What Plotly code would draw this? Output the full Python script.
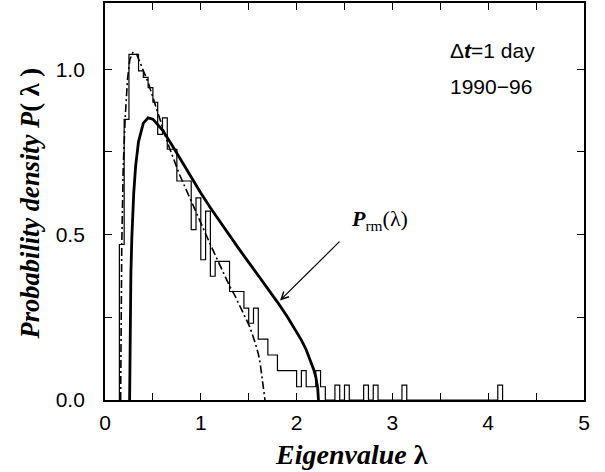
import plotly.graph_objects as go

# histogram of eigenvalues, bins of width 0.05 starting at 0.15
bin_start = 0.15
bin_width = 0.05
density = [0.47, 0.848, 1.045, 1.045, 0.995, 0.975, 0.944, 0.90, 0.803, 0.853,
           0.758, 0.758, 0.662, 0.662, 0.662, 0.515, 0.611, 0.424, 0.571, 0.374,
           0.419, 0.419, 0.419, 0.328, 0.328, 0.328, 0.278, 0.232, 0.278, 0.184,
           0.184, 0.136, 0.136, 0.089, 0.089, 0.089, 0.089, 0.04, 0.089, 0.04,
           0.04, 0.089, 0.04]
# isolated large eigenvalues (left edge of bin, density)
outlier_left = [2.40, 2.50, 2.70, 2.80, 3.10, 4.10]
outlier_density = [0.045, 0.045, 0.045, 0.045, 0.045, 0.045]

# random-matrix prediction P_rm(lambda)
rm_lam = [0.257, 0.26, 0.27, 0.28, 0.30, 0.32, 0.35, 0.40, 0.45, 0.50, 0.60, 0.70,
          0.80, 0.90, 1.00, 1.10, 1.20, 1.30, 1.40, 1.50, 1.60, 1.70, 1.80, 1.90,
          2.00, 2.05, 2.10, 2.15, 2.18, 2.20, 2.22, 2.228]
rm_p = [0.0, 0.18, 0.38, 0.49, 0.626, 0.708, 0.781, 0.837, 0.853, 0.849, 0.816, 0.770,
        0.721, 0.673, 0.626, 0.581, 0.538, 0.496, 0.456, 0.416, 0.376, 0.337, 0.296, 0.253,
        0.207, 0.181, 0.152, 0.117, 0.091, 0.070, 0.037, 0.0]

# fitted curve (dot-dashed)
fit_lam = [0.163, 0.168, 0.175, 0.19, 0.21, 0.235, 0.26, 0.29, 0.33, 0.38, 0.45, 0.55,
           0.65, 0.78, 0.90, 1.00, 1.10, 1.18, 1.30, 1.36, 1.42, 1.51, 1.56, 1.60,
           1.62, 1.645, 1.66, 1.67]
fit_p = [0.0, 0.25, 0.47, 0.70, 0.85, 0.97, 1.03, 1.05, 1.045, 1.01, 0.96, 0.87,
         0.78, 0.68, 0.60, 0.535, 0.47, 0.42, 0.345, 0.313, 0.275, 0.222, 0.18, 0.14,
         0.11, 0.06, 0.03, 0.0]

x_ticks = [0, 0.5, 1, 1.5, 2, 2.5, 3, 3.5, 4, 4.5, 5]
x_ticktext = ['0', '', '1', '', '2', '', '3', '', '4', '', '5']
y_ticks = [0, 0.25, 0.5, 0.75, 1.0]
y_ticktext = ['0.0', '', '0.5', '', '1.0']

# build the outline of the histogram as a step line
hx, hy = [bin_start], [0.0]
for i, d in enumerate(density):
    left = bin_start + i * bin_width
    hx += [left, left + bin_width]
    hy += [d, d]
hx.append(bin_start + len(density) * bin_width)
hy.append(0.0)
for left, d in zip(outlier_left, outlier_density):
    hx += [left, left, left + bin_width, left + bin_width]
    hy += [0.0, d, d, 0.0]

fig = go.Figure()
fig.add_trace(go.Scatter(x=hx, y=hy, mode='lines', line=dict(color='black', width=1.2)))
fig.add_trace(go.Scatter(x=fit_lam, y=fit_p, mode='lines',
                         line=dict(color='black', width=1.6, dash='8px,3px,2px,3px')))
fig.add_trace(go.Scatter(x=rm_lam, y=rm_p, mode='lines', line=dict(color='black', width=2.8)))

axis_font = dict(family='Liberation Sans, Arial', size=21, color='black')
serif = 'Liberation Serif, Times New Roman'
fig.update_layout(
    width=605, height=472,
    margin=dict(l=105, r=21, t=3, b=72, autoexpand=False),
    paper_bgcolor='white', plot_bgcolor='white',
    showlegend=False,
    xaxis=dict(range=[0, 5], tickvals=x_ticks, ticktext=x_ticktext, ticks='inside',
               ticklen=7, tickwidth=1.3, tickcolor='black', showline=True, linewidth=1.8,
               linecolor='black', mirror='ticks', showgrid=False, zeroline=False,
               tickfont=axis_font, automargin=False, ticklabelstandoff=3),
    yaxis=dict(range=[0, 1.2], tickvals=y_ticks, ticktext=y_ticktext, ticks='inside',
               ticklen=7, tickwidth=1.3, tickcolor='black', showline=True, linewidth=1.8,
               linecolor='black', mirror='ticks', showgrid=False, zeroline=False,
               tickfont=axis_font, automargin=False, ticklabelstandoff=14),
)

# axis titles
fig.add_annotation(x=0.514, y=-0.1385, xref='paper', yref='paper', showarrow=False,
                   xanchor='center', yanchor='middle', text='<b><i>Eigenvalue</i> λ</b>',
                   font=dict(family=serif, size=28, color='black'))
fig.add_annotation(x=-0.1566, y=0.495, xref='paper', yref='paper', showarrow=False,
                   xanchor='center', yanchor='middle', textangle=-90,
                   text='<b><i>Probability density P</i>( λ )</b>',
                   font=dict(family=serif, size=26.5, color='black'))

fig.add_annotation(x=3.58, y=1.055, xref='x', yref='y', xanchor='left', showarrow=False,
                   text='Δ<b><i>t</i></b>=1 day', font=axis_font)
fig.add_annotation(x=3.58, y=0.948, xref='x', yref='y', xanchor='left', showarrow=False,
                   text='1990−96', font=axis_font)
fig.add_annotation(x=2.87, y=0.545, xref='x', yref='y', showarrow=False,
                   text='<b><i>P</i></b><sub>rm</sub>(λ)',
                   font=dict(family=serif, size=22, color='black'))
fig.add_annotation(x=1.827, y=0.301, ax=2.463, ay=0.483, xref='x', yref='y',
                   axref='x', ayref='y', text='', showarrow=True, arrowhead=5,
                   arrowsize=1.2, arrowwidth=1.2, arrowcolor='black')

# the page body has a default margin; drop it so the figure fills the window
fig.write_html("out.html", config={'displayModeBar': False},
               post_script="document.body.style.margin='0px';")
